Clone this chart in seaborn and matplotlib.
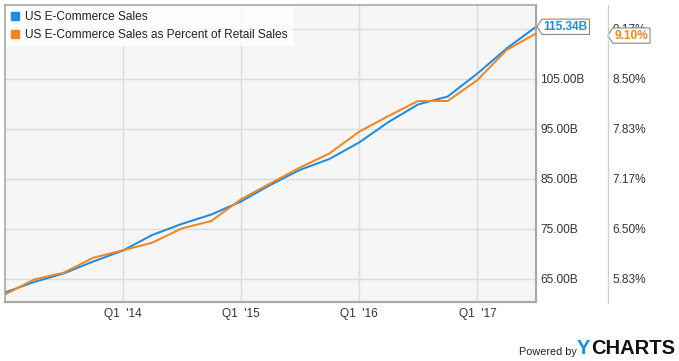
import numpy as np
import pandas as pd
import matplotlib
matplotlib.use("Agg")
import matplotlib.pyplot as plt
from matplotlib.path import Path
from matplotlib.lines import Line2D
import matplotlib.transforms as mtransforms
import seaborn as sns

# ---------------- data ----------------
quarters = pd.date_range("2013-01-01", "2017-07-01", freq="QS")
sales_b = [62.2, 64.3, 66.0, 68.4, 70.6, 73.7, 75.9, 77.8, 80.4, 83.7,
           86.7, 88.9, 92.2, 96.3, 99.8, 101.4, 106.0, 111.0, 115.34]
pct_retail = [5.62, 5.82, 5.91, 6.11, 6.21, 6.31, 6.50, 6.60, 6.89, 7.10,
              7.31, 7.50, 7.79, 8.00, 8.20, 8.20, 8.48, 8.88, 9.10]
left_ticks = [65, 75, 85, 95, 105, 115]
left_labels = ["65.00B", "75.00B", "85.00B", "95.00B", "105.00B", ""]  # 115.00B hidden under tag
right_ticks = [5.8333, 6.5, 7.1667, 7.8333, 8.5, 9.1667]
right_labels = ["5.83%", "6.50%", "7.17%", "7.83%", "8.50%", "9.17%"]
year_ticks = pd.to_datetime(["2014-01-01", "2015-01-01", "2016-01-01", "2017-01-01"])
year_labels = ["Q1  '14", "Q1  '15", "Q1  '16", "Q1  '17"]
series_names = ["US E-Commerce Sales", "US E-Commerce Sales as Percent of Retail Sales"]

BLUE = "#1e8ce6"
ORANGE = "#f5851f"

sns.set_style("white")
plt.rcParams["font.family"] = ["Liberation Sans", "DejaVu Sans"]

W, H = 679, 361
fig = plt.figure(figsize=(W / 100, H / 100), dpi=100)
L, R, T, B = 5, 536, 5, 302
ax = fig.add_axes([L / W, 1 - B / H, (R - L) / W, (B - T) / H])
ax.set_facecolor("#f6f6f6")
ax2 = ax.twinx()

df = pd.DataFrame({"date": quarters, "sales": sales_b, "pct": pct_retail})
sns.lineplot(data=df, x="date", y="sales", ax=ax, color=BLUE, linewidth=1.45)
sns.lineplot(data=df, x="date", y="pct", ax=ax2, color=ORANGE, linewidth=1.45)

ax.set_xlim(quarters[0], quarters[-1])
b_lo, b_hi = 60.3, 119.7
ax.set_ylim(b_lo, b_hi)
to_pct = lambda v: 5.8333 + (v - 65) / 15.0
ax2.set_ylim(to_pct(b_lo), to_pct(b_hi))

# axes styling
for a in (ax, ax2):
    a.set_xlabel("")
    a.set_ylabel("")
ax.set_xticks(year_ticks)
ax.set_xticklabels(year_labels)
ax.yaxis.tick_right()
ax.set_yticks(left_ticks)
ax.set_yticklabels(left_labels)
ax2.set_yticks(right_ticks)
ax2.set_yticklabels(right_labels)
ax.tick_params(axis="y", length=0, pad=3, labelsize=8.6, colors="#333333")
ax2.tick_params(axis="y", length=0, pad=55, labelsize=8.6, colors="#333333")
ax.tick_params(axis="x", length=0, pad=4, labelsize=8.6, colors="#333333")
ax.grid(True, color="#dcdcdc", linewidth=1.0)
ax.set_axisbelow(True)
for s in ax.spines.values():
    s.set_visible(True)
    s.set_color("#a9a9a9")
    s.set_linewidth(1.2)
ax.spines["right"].set_linewidth(1.6)
ax.spines["bottom"].set_linewidth(1.6)
for s in ax2.spines.values():
    s.set_visible(False)

# separator line between the two scales
fig.add_artist(Line2D([607.5 / W, 607.5 / W], [1 - 303 / H, 1 - 5 / H],
                      color="#d0d0d0", linewidth=1.0))

# legend
handles = [Line2D([], [], linestyle="none", marker="s", markersize=5.2,
                  markerfacecolor=BLUE, markeredgecolor=BLUE),
           Line2D([], [], linestyle="none", marker="s", markersize=5.2,
                  markerfacecolor=ORANGE, markeredgecolor=ORANGE)]
leg = ax2.legend(handles, series_names, loc="upper left", bbox_to_anchor=(0.0, 1.0),
                 borderaxespad=0.1, frameon=True, fancybox=False, framealpha=0.8,
                 edgecolor="none", facecolor="white", fontsize=8.6,
                 handlelength=0.7, handletextpad=0.5, labelspacing=0.5,
                 borderpad=0.4)
for t in leg.get_texts():
    t.set_color("#222222")


# end-of-series tags
def tag_box(x0, y0, width, height, mutation_size):
    pad = 0.14 * mutation_size
    x0, y0 = x0 - pad, y0 - pad
    w, h = width + 2 * pad, height + 2 * pad
    tip = 0.32 * h
    verts = [(x0, y0), (x0 + w, y0), (x0 + w, y0 + h), (x0, y0 + h),
             (x0 - tip, y0 + h / 2), (x0, y0)]
    return Path(verts, closed=True)


tr1 = mtransforms.blended_transform_factory(ax.transAxes, ax.transData)
ax.annotate(f"{sales_b[-1]:.2f}B", xy=(1.0, sales_b[-1]), xycoords=tr1,
            xytext=(5.5, 0), textcoords="offset points", ha="left", va="center",
            fontsize=8.6, fontweight="bold", color=BLUE, zorder=10,
            annotation_clip=False,
            bbox=dict(boxstyle=tag_box, facecolor="white", edgecolor="#8a8a8a",
                      linewidth=0.8))
tr2 = mtransforms.blended_transform_factory(ax2.transAxes, ax2.transData)
ax2.annotate(f"{pct_retail[-1]:.2f}%", xy=(1.0, pct_retail[-1]), xycoords=tr2,
             xytext=(56.5, -1.5), textcoords="offset points", ha="left", va="center",
             fontsize=8.6, fontweight="bold", color=ORANGE, zorder=10,
             annotation_clip=False,
             bbox=dict(boxstyle=tag_box, facecolor="white", edgecolor="#8a8a8a",
                       linewidth=0.8))

# branding
fig.text(519 / W, 1 - 352 / H, "Powered by", fontsize=7.8, color="#222222",
         ha="left", va="center")
fig.text(577 / W, 1 - 349 / H, "Y", fontsize=14.5, fontweight="bold", color=BLUE,
         ha="left", va="center")
fig.text(591 / W, 1 - 349 / H, "CHARTS", fontsize=14.5, fontweight="bold",
         color="#111111", ha="left", va="center")

fig.savefig("out.png", dpi=100, facecolor="white")
